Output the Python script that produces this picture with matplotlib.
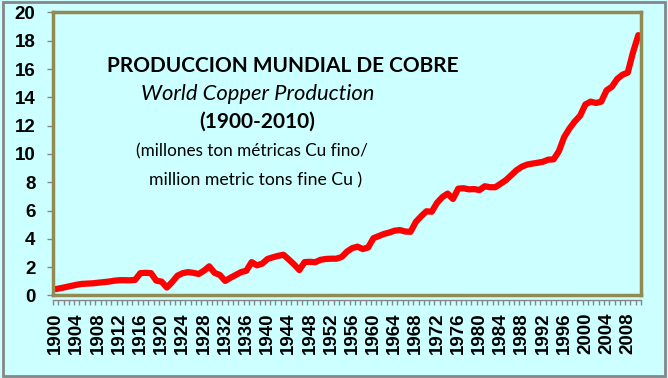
import matplotlib
matplotlib.use("Agg")
import matplotlib.pyplot as plt
from matplotlib.patches import Rectangle

# World copper production, million metric tons fine Cu
years = list(range(1900, 2011))
production = [
    0.45, 0.52, 0.60, 0.68, 0.76, 0.82, 0.84, 0.86, 0.90, 0.94,   # 1900s
    0.98, 1.04, 1.08, 1.08, 1.07, 1.10, 1.58, 1.60, 1.58, 1.05,   # 1910s
    0.98, 0.56, 0.95, 1.40, 1.58, 1.65, 1.60, 1.52, 1.75, 2.06,   # 1920s
    1.60, 1.45, 1.03, 1.25, 1.45, 1.65, 1.75, 2.36, 2.13, 2.25,   # 1930s
    2.58, 2.70, 2.80, 2.88, 2.55, 2.20, 1.80, 2.36, 2.38, 2.35,   # 1940s
    2.52, 2.58, 2.60, 2.60, 2.72, 3.10, 3.35, 3.45, 3.28, 3.40,   # 1950s
    4.05, 4.20, 4.35, 4.45, 4.58, 4.62, 4.52, 4.50, 5.20, 5.60,   # 1960s
    5.95, 5.92, 6.55, 6.95, 7.20, 6.82, 7.55, 7.58, 7.50, 7.52,   # 1970s
    7.45, 7.72, 7.65, 7.65, 7.90, 8.15, 8.50, 8.85, 9.10, 9.25,   # 1980s
    9.32, 9.38, 9.45, 9.60, 9.62, 10.20, 11.20, 11.80, 12.30, 12.70,  # 1990s
    13.50, 13.70, 13.60, 13.70, 14.50, 14.75, 15.30, 15.60, 15.75, 17.20,  # 2000s
    18.40,
]
year_labels = [str(y) for y in years[::4]]
y_ticks = list(range(0, 21, 2))

title_lines = [
    ("PRODUCCION MUNDIAL DE COBRE", "bold", "normal", 15),
    ("World Copper Production", "normal", "italic", 15.8),
    ("(1900-2010)", "bold", "normal", 15),
    ("(millones ton métricas Cu fino/", "normal", "normal", 12.3),
    ("million metric tons fine Cu )", "normal", "normal", 12.7),
]

bg = "#ccffff"
spine_col = "#938953"
axis_gray = "#868686"

fig = plt.figure(figsize=(6.68, 3.78), dpi=100, facecolor=bg)
fig.patches.append(Rectangle((0.004, 0.006), 0.992, 0.988, transform=fig.transFigure,
                             fill=False, edgecolor=axis_gray, linewidth=2))
ax = fig.add_axes([0.0793, 0.2183, 0.8803, 0.7487], facecolor=bg)

for s in ax.spines.values():
    s.set_color(spine_col)
    s.set_linewidth(2.5)
# gray category axis just below the plot-area border
ax.spines["bottom"].set_position(("outward", 3))
ax.spines["bottom"].set_color(axis_gray)
ax.spines["bottom"].set_linewidth(1)

x = list(range(len(years)))
ax.plot(x, production, color="#ff0000", linewidth=4.5, solid_joinstyle="round",
        solid_capstyle="round")
ax.axhline(0, color=spine_col, linewidth=2.5, clip_on=False, zorder=1)

ax.set_xlim(-0.5, len(years) - 0.5)
ax.set_ylim(0, 20)

# tick marks between categories, labels every 4 years
ax.set_xticks([i - 0.5 for i in range(len(years) + 1)], minor=True)
ax.set_xticks(x[::4])
ax.set_xticklabels(year_labels, rotation=90, fontfamily="Liberation Sans",
                   fontweight="bold", fontsize=13.5)
ax.tick_params(axis="x", which="major", length=0, pad=9)
ax.tick_params(axis="x", which="minor", length=3.5, width=1, color=axis_gray,
               direction="out")

ax.set_yticks(y_ticks)
ax.set_yticklabels([str(v) for v in y_ticks], fontfamily="Liberation Sans",
                   fontweight="bold", fontsize=13.5)
ax.tick_params(axis="y", length=4.5, width=1, color=axis_gray, direction="out", pad=8)

ys = [66, 94, 122, 151, 180]
xs = [283, 258, 257, 252, 256]
for (txt, weight, style, size), px, py in zip(title_lines, xs, ys):
    fig.text(px / 668, 1 - py / 378, txt, ha="center", va="center",
             fontfamily="Lato", fontweight=weight, fontstyle=style, fontsize=size,
             color="black")

fig.savefig("out.png", dpi=100, facecolor=bg)
